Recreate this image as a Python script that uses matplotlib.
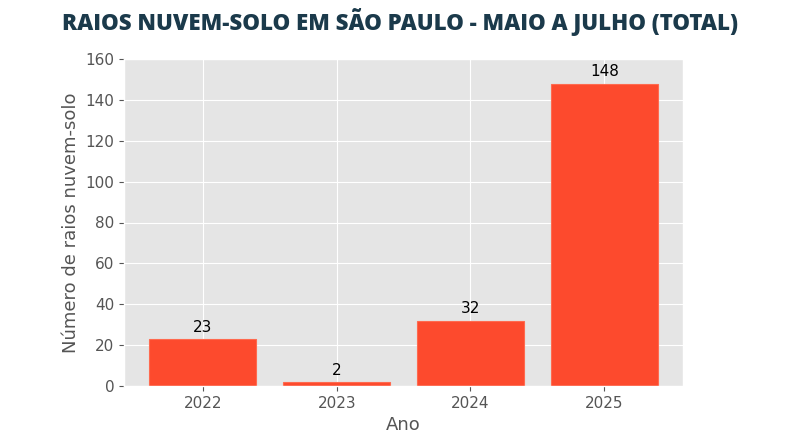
import matplotlib
matplotlib.use("Agg")
import matplotlib.pyplot as plt

plt.style.use("ggplot")
plt.rcParams["font.family"] = ["DejaVu Sans"]

anos = ["2022", "2023", "2024", "2025"]
raios = [23, 2, 32, 148]

fig = plt.figure(figsize=(8, 4.45), dpi=100)
ax = fig.add_axes([0.155, 0.1326, 0.699, 0.7348])

x = range(len(anos))
bars = ax.bar(x, raios, width=0.8, color="#FD4A2D", edgecolor="#FF6A4F", linewidth=0.8)
ax.set_xticks(list(x))
ax.set_xticklabels(anos)
ax.set_ylim(0, 160)
ax.set_yticks(range(0, 161, 20))
ax.tick_params(axis="both", labelsize=11, colors="#555555")
for lbl in ax.get_xticklabels() + ax.get_yticklabels():
    lbl.set_color("#555555")
ax.set_xlabel("Ano", fontsize=13, color="#555555", labelpad=4)
ax.set_ylabel("Número de raios nuvem-solo", fontsize=13, color="#555555", labelpad=4)

for xi, v in zip(x, raios):
    ax.annotate(str(v), (xi, v), xytext=(0, 3), textcoords="offset points",
                ha="center", va="bottom", fontsize=11, color="black")

fig.text(0.5, 0.95, "RAIOS NUVEM-SOLO EM SÃO PAULO - MAIO A JULHO (TOTAL)",
         ha="center", va="center", fontsize=16, fontweight="heavy",
         family="Open Sans", color="#1B3A4B")

fig.savefig("out.png", dpi=100)
